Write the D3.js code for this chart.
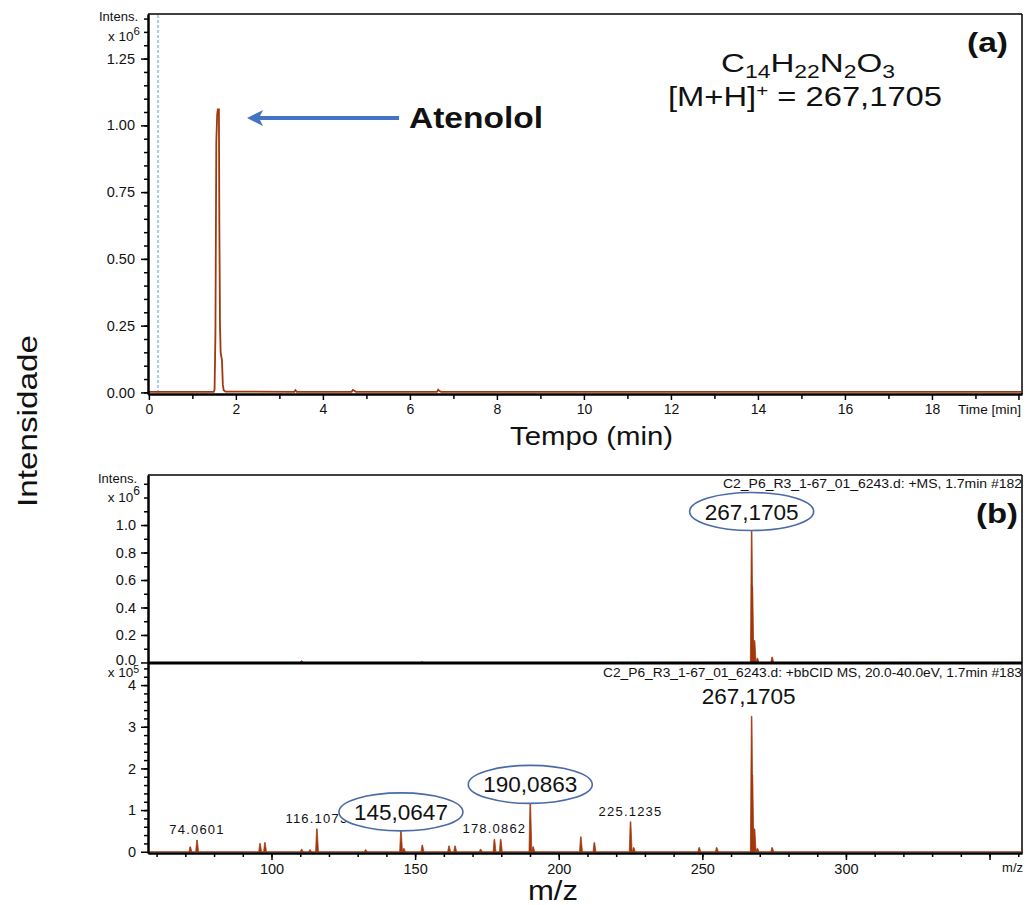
<!DOCTYPE html>
<html><head><meta charset="utf-8">
<script src="https://cdn.jsdelivr.net/npm/d3@7"></script>
<style>
body{margin:0;background:#fff}
text{font-family:"Liberation Sans",Arial,Helvetica,sans-serif;fill:#111}
</style></head>
<body><svg id="c" width="1027" height="905"></svg>
<script>
// ---------- DATA ----------
// (a) extracted ion chromatogram, time in min, intensity x10^6
const chromTime = [0, 1.49, 1.51, 1.53, 1.55, 1.57, 1.585, 1.61, 1.62, 1.635, 1.65, 1.68, 1.70, 1.72, 1.76, 3.34, 3.37, 3.40, 4.66, 4.69, 4.72, 4.76, 6.62, 6.65, 6.68, 6.72, 20.05];
const chromIntensity = [0.002, 0.002, 0.01, 0.22, 0.94, 1.04, 1.06, 1.06, 0.63, 0.25, 0.15, 0.12, 0.03, 0.008, 0.003, 0.002, 0.008, 0.002, 0.002, 0.009, 0.006, 0.002, 0.002, 0.01, 0.005, 0.002, 0.002];
const timeTicks = [0, 2, 4, 6, 8, 10, 12, 14, 16, 18];
const chromYTicks = [0, 0.25, 0.5, 0.75, 1.0, 1.25];
const markerTime = [0.21];

// (b) upper: full-scan MS, intensity x10^6
const msMz = [110.5, 152.4, 267.17, 267.4, 268.17, 269.17, 274.3];
const msIntensity = [0.012, 0.006, 0.96, 0.55, 0.16, 0.03, 0.04];
const msYTicks = [0, 0.2, 0.4, 0.6, 0.8, 1.0];

// (b) lower: bbCID MS/MS, intensity x10^5
const msmsMz = [71.7, 74.06, 96.0, 97.7, 110.5, 113.4, 115.8, 132.8, 145.06, 146.07, 152.5, 161.8, 163.9, 172.8, 177.6, 179.8, 190.09, 191.09, 207.7, 212.4, 225.0, 226.1, 248.9, 255.0, 267.17, 267.4, 268.17, 269.17, 274.3];
const msmsIntensity = [0.12, 0.28, 0.2, 0.22, 0.06, 0.05, 0.55, 0.05, 0.5, 0.08, 0.16, 0.14, 0.14, 0.06, 0.3, 0.3, 1.16, 0.12, 0.36, 0.22, 0.72, 0.1, 0.1, 0.1, 3.25, 1.84, 0.55, 0.08, 0.1];
const msmsYTicks = [0, 1, 2, 3, 4];
const mzTicks = [100, 150, 200, 250, 300, 350];
const mzTickLabels = ["100", "150", "200", "250", "300", ""];

// annotations
const smallLabelMz = [74.06, 115.8, 177.6, 225.0];
const smallLabelText = ["74.0601", "116.1073", "178.0862", "225.1235"];
const msmsCircledMz = [145.06, 190.09];
const msmsCircledText = ["145,0647", "190,0863"];
const msCircledMz = [267.17];
const msCircledText = ["267,1705"];
const msmsTopMz = [267.17];
const msmsTopText = ["267,1705"];

// ---------- DRAWING ----------
const svg = d3.select('#c');
const BROWN = '#a0380c';
const BLUE = '#4a6aa8';

function styleAxis(g, fs) {
  g.select('.domain').attr('stroke', '#000').attr('stroke-width', 2);
  g.selectAll('.tick line').attr('stroke', '#000').attr('stroke-width', 1.5);
  g.selectAll('.tick text').attr('font-size', fs).attr('fill', '#222')
    .attr('font-family', '"Liberation Sans",Arial,sans-serif');
}

// ===== Panel (a) =====
const xA = d3.scaleLinear().domain([-0.02, 20.07]).range([148, 1022]);
const yA = d3.scaleLinear().domain([-0.006, 1.417]).range([394, 14]);

svg.append('line').attr('x1', 148).attr('x2', 1022).attr('y1', 14).attr('y2', 14).attr('stroke', '#000').attr('stroke-width', 1.5);
svg.append('line').attr('x1', 1022).attr('x2', 1022).attr('y1', 14).attr('y2', 394).attr('stroke', '#000').attr('stroke-width', 1.5);

svg.selectAll('.marker').data(markerTime).enter().append('line')
  .attr('x1', d => xA(d)).attr('x2', d => xA(d)).attr('y1', 15).attr('y2', 393)
  .attr('stroke', '#8dbde9').attr('stroke-width', 1.5).attr('stroke-dasharray', '3,2');

const chromPts = chromTime.map((t, i) => [t, chromIntensity[i]]);
svg.append('path').datum(chromPts)
  .attr('d', d3.line().x(d => xA(d[0])).y(d => yA(d[1])))
  .attr('fill', 'none').attr('stroke', BROWN).attr('stroke-width', 1.8);

const axAminor = svg.append('g').attr('transform', 'translate(0,394)')
  .call(d3.axisBottom(xA).tickValues(d3.range(1, 20, 2)).tickFormat('').tickSize(5).tickSizeOuter(0));
styleAxis(axAminor, 12);
const axA = svg.append('g').attr('transform', 'translate(0,394)')
  .call(d3.axisBottom(xA).tickValues(timeTicks).tickFormat(d3.format('d')).tickSize(6).tickSizeOuter(0).tickPadding(4));
styleAxis(axA, 14);
axA.append('line').attr('x1', xA(20)).attr('x2', xA(20)).attr('y1', 0).attr('y2', 6).attr('stroke', '#000').attr('stroke-width', 1.5);

const ayAminor = svg.append('g').attr('transform', 'translate(148,0)')
  .call(d3.axisLeft(yA).tickValues(d3.range(0, 1.42, 0.05)).tickFormat('').tickSize(4).tickSizeOuter(0));
styleAxis(ayAminor, 12);
const ayA = svg.append('g').attr('transform', 'translate(148,0)')
  .call(d3.axisLeft(yA).tickValues(chromYTicks).tickFormat(d3.format('.2f')).tickSize(7).tickSizeOuter(0).tickPadding(6));
styleAxis(ayA, 14.5);

svg.append('text').attr('x', 138).attr('y', 21).attr('text-anchor', 'end').attr('font-size', 13).text('Intens.');
const t6a = svg.append('text').attr('x', 140).attr('y', 41).attr('text-anchor', 'end').attr('font-size', 13.5);
t6a.append('tspan').text('x 10');
t6a.append('tspan').attr('dy', -6).attr('font-size', 11.5).text('6');

svg.append('text').attr('x', 1021).attr('y', 414).attr('text-anchor', 'end').attr('font-size', 13)
  .attr('textLength', 63).attr('lengthAdjust', 'spacingAndGlyphs').text('Time [min]');
svg.append('text').attr('x', 510).attr('y', 445).attr('font-size', 26)
  .attr('textLength', 163).attr('lengthAdjust', 'spacingAndGlyphs').text('Tempo (min)');

svg.append('text').attr('x', 967).attr('y', 52).attr('font-size', 27).attr('font-weight', 'bold')
  .attr('textLength', 41).attr('lengthAdjust', 'spacingAndGlyphs').text('(a)');

const f = svg.append('text').attr('x', 721).attr('y', 72).attr('font-size', 26)
  .attr('textLength', 174).attr('lengthAdjust', 'spacingAndGlyphs');
[['C', 0], ['14', 1], ['H', 0], ['22', 1], ['N', 0], ['2', 1], ['O', 0], ['3', 1]].forEach(([s, sub], i, arr) => {
  const prevSub = i > 0 ? arr[i - 1][1] : 0;
  const dy = sub && !prevSub ? 6 : (!sub && prevSub ? -6 : 0);
  f.append('tspan').attr('dy', dy).attr('font-size', sub ? 18 : 26).text(s);
});
const mh = svg.append('text').attr('x', 668).attr('y', 106).attr('font-size', 27)
  .attr('textLength', 274).attr('lengthAdjust', 'spacingAndGlyphs');
mh.append('tspan').text('[M+H]');
mh.append('tspan').attr('dy', -10).attr('font-size', 17).text('+');
mh.append('tspan').attr('dy', 10).text(' = 267,1705');

svg.append('line').attr('x1', 399).attr('x2', 258).attr('y1', 118).attr('y2', 118).attr('stroke', '#4472c4').attr('stroke-width', 4);
svg.append('path').attr('d', 'M247,118 L263,110 L259,118 L263,126 Z').attr('fill', '#4472c4');
svg.append('text').attr('x', 409).attr('y', 128).attr('font-size', 29).attr('font-weight', 'bold')
  .attr('textLength', 134).attr('lengthAdjust', 'spacingAndGlyphs').text('Atenolol');

svg.append('text').attr('transform', 'translate(37,507) rotate(-90)').attr('font-size', 28)
  .attr('textLength', 172).attr('lengthAdjust', 'spacingAndGlyphs').text('Intensidade');

// ===== Panel (b) =====
const xB = d3.scaleLinear().domain([57.0, 361.3]).range([148, 1022]);
const yMS = d3.scaleLinear().domain([-0.004, 1.364]).range([663, 475]);
const yMSMS = d3.scaleLinear().domain([-0.03, 4.53]).range([853, 663]);

svg.append('line').attr('x1', 148).attr('x2', 1022).attr('y1', 475).attr('y2', 475).attr('stroke', '#000').attr('stroke-width', 1.5);
svg.append('line').attr('x1', 1022).attr('x2', 1022).attr('y1', 475).attr('y2', 853).attr('stroke', '#000').attr('stroke-width', 1.5);

function peakPath(xs, ys, mz, h) {
  const p = d3.path();
  p.moveTo(xs(mz - 0.45), ys(0));
  p.lineTo(xs(mz - 0.12), ys(h));
  p.lineTo(xs(mz + 0.12), ys(h));
  p.lineTo(xs(mz + 0.55), ys(0));
  p.closePath();
  return p.toString();
}

svg.append('line').attr('x1', 148).attr('x2', 1022).attr('y1', yMSMS(0)).attr('y2', yMSMS(0)).attr('stroke', BROWN).attr('stroke-width', 1.2);

svg.append('g').selectAll('path').data(msMz.map((m, i) => [m, msIntensity[i]])).enter().append('path')
  .attr('d', d => peakPath(xB, yMS, d[0], d[1])).attr('fill', BROWN).attr('stroke', BROWN).attr('stroke-width', 0.7);
svg.append('g').selectAll('path').data(msmsMz.map((m, i) => [m, msmsIntensity[i]])).enter().append('path')
  .attr('d', d => peakPath(xB, yMSMS, d[0], d[1])).attr('fill', BROWN).attr('stroke', BROWN).attr('stroke-width', 0.7);

svg.append('line').attr('x1', 148).attr('x2', 1022).attr('y1', 663).attr('y2', 663).attr('stroke', '#000').attr('stroke-width', 3);

const axBminor = svg.append('g').attr('transform', 'translate(0,853)')
  .call(d3.axisBottom(xB).tickValues(d3.range(60, 361, 10)).tickFormat('').tickSize(4).tickSizeOuter(0));
styleAxis(axBminor, 12);
const axB = svg.append('g').attr('transform', 'translate(0,853)')
  .call(d3.axisBottom(xB).tickValues(mzTicks).tickFormat((d, i) => mzTickLabels[i]).tickSize(7).tickSizeOuter(0).tickPadding(4));
styleAxis(axB, 14.5);

const ayMSminor = svg.append('g').attr('transform', 'translate(148,0)')
  .call(d3.axisLeft(yMS).tickValues(d3.range(0.1, 1.35, 0.1)).tickFormat('').tickSize(4).tickSizeOuter(0));
styleAxis(ayMSminor, 12);
const ayMS = svg.append('g').attr('transform', 'translate(148,0)')
  .call(d3.axisLeft(yMS).tickValues(msYTicks).tickFormat(d3.format('.1f')).tickSize(7).tickSizeOuter(0).tickPadding(5));
styleAxis(ayMS, 14.5);
ayMS.selectAll('.tick text').filter(d => d === 0).attr('dy', '0.15em');

const ayMSMSminor = svg.append('g').attr('transform', 'translate(148,0)')
  .call(d3.axisLeft(yMSMS).tickValues(d3.range(0.2, 4.45, 0.2)).tickFormat('').tickSize(4).tickSizeOuter(0));
styleAxis(ayMSMSminor, 12);
const ayMSMS = svg.append('g').attr('transform', 'translate(148,0)')
  .call(d3.axisLeft(yMSMS).tickValues(msmsYTicks).tickFormat(d3.format('d')).tickSize(7).tickSizeOuter(0).tickPadding(5));
styleAxis(ayMSMS, 14.5);

svg.append('text').attr('x', 137).attr('y', 483).attr('text-anchor', 'end').attr('font-size', 13).text('Intens.');
const t6b = svg.append('text').attr('x', 140).attr('y', 502).attr('text-anchor', 'end').attr('font-size', 13.5);
t6b.append('tspan').text('x 10'); t6b.append('tspan').attr('dy', -7).attr('font-size', 12).text('6');
const t5 = svg.append('text').attr('x', 139).attr('y', 677).attr('text-anchor', 'end').attr('font-size', 13.5);
t5.append('tspan').text('x 10'); t5.append('tspan').attr('dy', -4).attr('font-size', 10.5).text('5');

svg.append('text').attr('x', 723).attr('y', 488).attr('font-size', 12.5)
  .attr('textLength', 299).attr('lengthAdjust', 'spacingAndGlyphs').attr('fill', '#222')
  .text('C2_P6_R3_1-67_01_6243.d: +MS, 1.7min #182');
svg.append('text').attr('x', 603).attr('y', 677).attr('font-size', 12.5)
  .attr('textLength', 419).attr('lengthAdjust', 'spacingAndGlyphs').attr('fill', '#222')
  .text('C2_P6_R3_1-67_01_6243.d: +bbCID MS, 20.0-40.0eV, 1.7min #183');

svg.append('text').attr('x', 976).attr('y', 523).attr('font-size', 27).attr('font-weight', 'bold')
  .attr('textLength', 42).attr('lengthAdjust', 'spacingAndGlyphs').text('(b)');

smallLabelMz.forEach((m, i) => {
  const h = msmsIntensity[msmsMz.indexOf(m)];
  svg.append('text').attr('x', xB(m)).attr('y', yMSMS(h) - 6).attr('text-anchor', 'middle')
    .attr('font-size', 13).attr('letter-spacing', 1.2).attr('fill', '#222').text(smallLabelText[i]);
});

function circled(xs, ys, mz, h, txt) {
  const cx = xs(mz), cy = ys(h) - 19;
  svg.append('ellipse').attr('cx', cx).attr('cy', cy).attr('rx', 62).attr('ry', 19)
    .attr('fill', '#fff').attr('stroke', BLUE).attr('stroke-width', 1.6);
  svg.append('text').attr('x', cx - 47).attr('y', cy + 8).attr('font-size', 22)
    .attr('textLength', 94).attr('lengthAdjust', 'spacingAndGlyphs').text(txt);
}
msCircledMz.forEach((m, i) => circled(xB, yMS, m, msIntensity[msMz.indexOf(m)], msCircledText[i]));
msmsCircledMz.forEach((m, i) => circled(xB, yMSMS, m, msmsIntensity[msmsMz.indexOf(m)], msmsCircledText[i]));
msmsTopMz.forEach((m, i) => {
  const h = msmsIntensity[msmsMz.indexOf(m)];
  svg.append('text').attr('x', xB(m) - 50).attr('y', yMSMS(h) - 12).attr('font-size', 22)
    .attr('textLength', 94).attr('lengthAdjust', 'spacingAndGlyphs').text(msmsTopText[i]);
});

svg.append('text').attr('x', 1023).attr('y', 872).attr('text-anchor', 'end').attr('font-size', 13).attr('fill', '#222').text('m/z');
svg.append('text').attr('x', 528).attr('y', 900).attr('font-size', 27)
  .attr('textLength', 50).attr('lengthAdjust', 'spacingAndGlyphs').text('m/z');
</script></body></html>
